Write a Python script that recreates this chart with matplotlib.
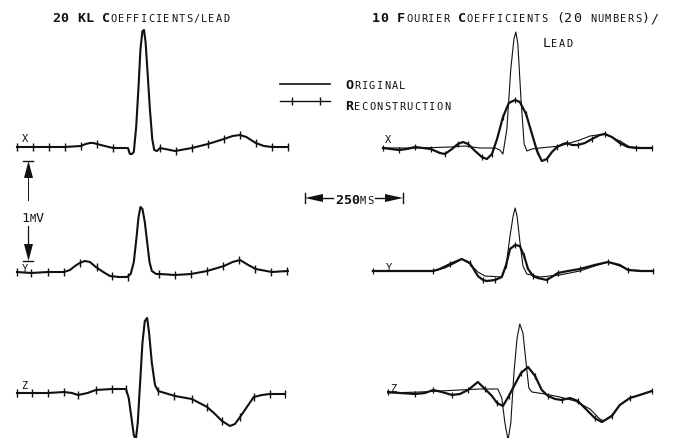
import numpy as np
import matplotlib.pyplot as plt
from matplotlib.transforms import Affine2D

W, H = 675, 439
MS_PER_PX = 250 / 98   # the 250 ms bar is 98 px long
MV_PER_PX = 1 / 100    # the 1 mV bar is ~100 px tall
nan = np.nan

# ---- traces: time in ms from trace start, amplitude in mV ----
# left column, original (KL reconstruction lies on top of it)
lx_t = [0, 41, 82, 122, 163, 175, 186, 195, 204, 214, 224, 245, 283, 288, 293, 298, 304, 310, 315, 320,
        324, 328, 333, 339, 345, 350, 357, 365, 403, 446, 487, 528, 550, 569, 585, 609, 630, 650, 691]
lx_v = [0, 0, 0, 0, 0.01, 0.03, 0.04, 0.04, 0.03, 0.02, 0.01, -0.01, -0.01, -0.07, -0.07, -0.05, 0.2, 0.6, 0.98, 1.16,
        1.17, 1.05, 0.75, 0.38, 0.08, -0.03, -0.04, -0.01, -0.04, -0.01, 0.03, 0.08, 0.11, 0.12, 0.1, 0.04, 0.01, 0.0, 0.0]
lx_kl_t = [0, 41, 82, 122, 163, 204, 245, nan, 365, 406, 446, 487, 528, 569, 609, 650, 691]
lx_kl_v = [0, 0, 0, 0, 0.01, 0.03, -0.01, nan, -0.01, -0.04, -0.01, 0.03, 0.08, 0.12, 0.04, 0.0, 0.0]

ly_t = [0, 36, 79, 120, 135, 148, 160, 173, 186, 201, 220, 237, 260, 281, 290, 298, 305, 310, 315, 320,
        326, 332, 338, 344, 355, 365, 403, 444, 485, 528, 550, 569, 590, 609, 650, 691]
ly_v = [0, -0.01, 0, 0, 0.02, 0.06, 0.09, 0.11, 0.1, 0.05, 0.0, -0.04, -0.05, -0.05, -0.02, 0.1, 0.35, 0.55, 0.65, 0.63,
        0.5, 0.3, 0.1, 0.01, -0.02, -0.02, -0.03, -0.02, 0.01, 0.06, 0.1, 0.12, 0.07, 0.03, 0.0, 0.01]
ly_kl_t = [0, 36, 79, 120, 161, 204, 242, 283, nan, 362, 403, 444, 485, 526, 566, 607, 648, 689]
ly_kl_v = [0, -0.01, 0, 0, 0.09, 0.05, -0.04, -0.05, nan, -0.02, -0.03, -0.02, 0.01, 0.06, 0.12, 0.03, 0.0, 0.01]

lz_t = [0, 38, 79, 120, 140, 156, 180, 201, 242, 278, 285, 292, 298, 303, 308, 314, 320, 326, 332, 337,
        344, 352, 360, 403, 446, 485, 505, 523, 543, 556, 569, 590, 604, 625, 645, 683]
lz_v = [0, 0, 0, 0.01, 0.0, -0.02, 0.0, 0.03, 0.04, 0.04, -0.05, -0.25, -0.42, -0.47, -0.3, 0.1, 0.5, 0.72, 0.75, 0.6,
        0.3, 0.08, 0.02, -0.03, -0.06, -0.14, -0.21, -0.28, -0.33, -0.31, -0.24, -0.12, -0.04, -0.02, -0.01, -0.01]
lz_kl_t = [0, 38, 79, 120, 156, 201, 242, 278, nan, 360, 401, 446, 485, 523, 569, 604, 645, 683]
lz_kl_v = [0, 0, 0, 0.01, -0.02, 0.03, 0.04, 0.04, nan, 0.02, -0.03, -0.06, -0.14, -0.28, -0.24, -0.04, -0.01, -0.01]

# right column: original and 10-coefficient Fourier reconstruction
rx_t = [0, 94, 171, 209, 247, 286, 298, 306, 316, 326, 334, 339, 344, 352, 360, 367, 380, 400, 451, 502, 528, 566, 604, 630, 686]
rx_v = [0, 0, 0.01, 0.02, 0, 0, -0.02, -0.06, 0.19, 0.79, 1.09, 1.16, 1.04, 0.49, 0.04, -0.03, -0.01, 0, 0.02, 0.08,
        0.12, 0.14, 0.07, 0.01, 0]
rx_fr_t = [0, 20, 41, 61, 82, 102, 122, 145, 158, 176, 191, 204, 217, 235, 252, 265, 278, 291, 306, 321, 337, 349,
           365, 380, 393, 405, 418, 431, 444, 459, 469, 482, 497, 515, 533, 553, 566, 584, 604, 625, 645, 666, 686]
rx_fr_v = [0, -0.01, -0.02, -0.01, 0.01, 0, -0.01, -0.05, -0.06, -0.01, 0.04, 0.06, 0.04, -0.03, -0.09, -0.11, -0.06,
           0.09, 0.31, 0.45, 0.48, 0.46, 0.34, 0.14, -0.03, -0.13, -0.11, -0.04, 0.01, 0.04, 0.05, 0.03, 0.03, 0.05,
           0.09, 0.13, 0.14, 0.11, 0.05, 0.01, 0, 0, 0]

ry_t = [-26, 128, 158, 184, 201, 222, 242, 260, 303, 314, 324, 332, 337, 342, 349, 357, 367, 400, 451, 502, 540, 574, 604, 630, 689]
ry_v = [0, 0, 0.03, 0.08, 0.12, 0.07, -0.01, -0.05, -0.06, 0.05, 0.35, 0.55, 0.63, 0.55, 0.3, 0.05, -0.03, -0.06,
        -0.04, 0, 0.05, 0.09, 0.05, 0.01, 0]
ry_fr_t = [-26, 43, 128, 145, 171, 201, 222, 242, 255, 265, 286, 303, 314, 324, 337, 349, 360, 370, 383, 395, 418,
           434, 446, 472, 502, 540, 574, 604, 625, 655, 689]
ry_fr_v = [0, 0, 0, 0.02, 0.07, 0.12, 0.08, -0.05, -0.09, -0.10, -0.09, -0.06, 0.06, 0.22, 0.26, 0.25, 0.15, 0.02,
           -0.05, -0.07, -0.09, -0.05, -0.02, 0, 0.02, 0.06, 0.09, 0.06, 0.01, 0, 0]

rz_t = [13, 94, 196, 247, 293, 303, 311, 319, 326, 334, 342, 349, 357, 365, 372, 380, 413, 451, 490, 528, 553, 564,
        584, 604, 630, 655, 686]
rz_v = [0, 0.01, 0.03, 0.04, 0.04, -0.05, -0.3, -0.47, -0.3, 0.2, 0.55, 0.69, 0.6, 0.3, 0.05, 0.01, -0.01, -0.04,
        -0.08, -0.16, -0.26, -0.28, -0.22, -0.12, -0.05, -0.02, 0.02]
rz_fr_t = [13, 43, 82, 107, 128, 150, 176, 196, 217, 242, 260, 278, 291, 306, 321, 337, 352, 370, 388, 405, 421,
           439, 456, 477, 497, 515, 540, 558, 584, 604, 630, 655, 686]
rz_fr_v = [0.01, 0, -0.01, 0, 0.03, 0.01, -0.02, -0.01, 0.03, 0.11, 0.04, -0.03, -0.1, -0.13, -0.03, 0.09, 0.2, 0.26,
           0.17, 0.03, -0.03, -0.06, -0.07, -0.05, -0.08, -0.15, -0.25, -0.29, -0.23, -0.12, -0.05, -0.02, 0.02]

lead_names = ['X', 'Y', 'Z']


fig = plt.figure(figsize=(W / 100, H / 100), dpi=100)
ax = fig.add_axes([0, 0, 1, 1])
ax.set_xlim(0, W * MS_PER_PX)
ax.set_ylim(-H * MV_PER_PX, 0)
ax.axis('off')
pix = Affine2D().scale(1 / W, -1 / H).translate(0, 1) + fig.transFigure
INK = '#111111'
MONO = 'DejaVu Sans Mono'


def trace(t, v, x0, base, **kw):
    ax.plot(np.array(t, float) + x0 * MS_PER_PX, np.array(v, float) - base * MV_PER_PX,
            color=INK, solid_joinstyle='round', **kw)


def caps(x, y, parts, big=9.6, small=7.4, bp=8.3, sp=7.5):
    # plotter-style lettering: big initials, small caps, fixed pitch
    for s, weight in parts:
        for ch in s:
            is_big = weight != 'small'
            pitch = bp if is_big else sp
            if ch != ' ':
                ax.text(x + pitch / 2, y, ch, transform=pix, ha='center', va='baseline',
                        fontsize=big if is_big else small, family=MONO, color=INK,
                        fontweight='bold' if weight == 'bold' else 'normal')
            x += pitch


# left column: 20 KL coefficients (reconstruction sits on the original)
left = [(lx_t, lx_v, lx_kl_t, lx_kl_v, 148), (ly_t, ly_v, ly_kl_t, ly_kl_v, 273), (lz_t, lz_v, lz_kl_t, lz_kl_v, 394)]
for t, v, kt, kv, base in left:
    trace(t, v, 17, base, lw=1.5)
    trace(kt, kv, 17, base, ls='none', marker='|', ms=6, mew=1.0)

right = [(rx_t, rx_v, rx_fr_t, rx_fr_v, 149), (ry_t, ry_v, ry_fr_t, ry_fr_v, 272), (rz_t, rz_v, rz_fr_t, rz_fr_v, 394)]
for t, v, ft, fv, base in right:
    trace(t, v, 383, base, lw=0.8)
    trace(ft, fv, 383, base, lw=1.6, marker='|', ms=5, mew=0.9, markevery=2)

# lead labels
for name, (xl, yl), (xr, yr) in zip(lead_names, [(22, 142), (22, 272), (21, 389)], [(385, 143), (386, 271), (390, 392)]):
    ax.text(xl, yl, name, transform=pix, fontsize=7.5, family=MONO, color=INK, va='baseline')
    ax.text(xr, yr, name, transform=pix, fontsize=7.5, family=MONO, color=INK, va='baseline')

# titles
caps(52, 22, [('20 KL C', 'bold'), ('OEFFICIENTS/LEAD', 'small')])
caps(372, 22, [('10 F', 'bold'), ('OURIER ', 'small'), ('C', 'bold'), ('OEFFICIENTS ', 'small'),
               ('(20 ', 'big'), ('NUMBERS', 'small'), (')/', 'big')])
caps(542, 47, [('L', 'big'), ('EAD', 'small')])

# legend
lx0, lx1 = 280 * MS_PER_PX, 330 * MS_PER_PX
ax.plot([lx0, lx1], [-0.85, -0.85], color=INK, lw=1.2)
ax.plot([lx0, lx1], [-1.02, -1.02], color=INK, lw=1.0)
ax.plot([292 * MS_PER_PX, 320 * MS_PER_PX], [-1.02, -1.02], ls='none', marker='|', ms=6, mew=1.0, color=INK)
caps(345, 89, [('O', 'bold'), ('RIGINAL', 'small')])
caps(345, 110, [('R', 'bold'), ('ECONSTRUCTION', 'small')])

# 1 mV scale bar
sx = 28.5 * MS_PER_PX
y_lo = -262 * MV_PER_PX
y_hi = y_lo + 1.0
head = 0.17
hw = 4.5 * MS_PER_PX
ax.plot([sx, sx], [y_hi - head, -2.01], color=INK, lw=0.7)
ax.plot([sx, sx], [-2.27, y_lo + head], color=INK, lw=0.9)
for yb in (y_hi, y_lo):
    ax.plot([sx - 5 * MS_PER_PX, sx + 5 * MS_PER_PX], [yb, yb], color=INK, lw=1.0)
ax.fill([sx - hw, sx + hw, sx], [y_hi - head, y_hi - head, y_hi], color=INK, lw=0)
ax.fill([sx - hw, sx + hw, sx], [y_lo + head, y_lo + head, y_lo], color=INK, lw=0)
caps(22, 222, [('1', 'big'), ('M', 'small'), ('V', 'big')], bp=7.2, sp=7.0)

# 250 ms scale bar
tx0 = 305 * MS_PER_PX
tx1 = tx0 + 250
ty = -199 * MV_PER_PX
hl = 18 * MS_PER_PX
hh = 0.04
ax.plot([tx0 + hl, 333 * MS_PER_PX], [ty, ty], color=INK, lw=1.0)
ax.plot([375 * MS_PER_PX, tx1 - hl], [ty, ty], color=INK, lw=1.0)
for xb in (tx0, tx1):
    ax.plot([xb, xb], [ty - 0.05, ty + 0.05], color=INK, lw=1.0)
ax.fill([tx0 + hl, tx0 + hl, tx0], [ty - hh, ty + hh, ty], color=INK, lw=0)
ax.fill([tx1 - hl, tx1 - hl, tx1], [ty - hh, ty + hh, ty], color=INK, lw=0)
caps(335, 204, [('250', 'bold'), ('MS', 'small')], bp=8.0, sp=7.5)

fig.savefig('out.png', dpi=100, facecolor='white')
